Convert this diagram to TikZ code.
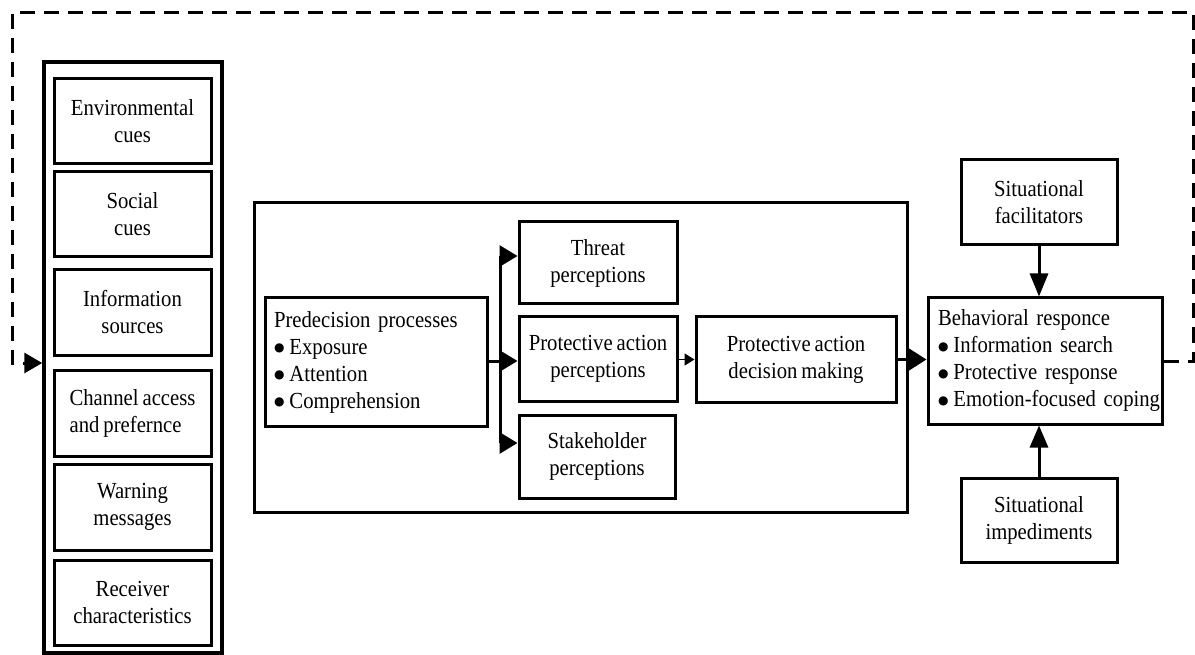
\documentclass[tikz,border=0pt]{standalone}
\usepackage{fontspec}
\setmainfont{Liberation Serif}[FakeStretch=0.9]
\newfontfamily\symfont{DejaVu Sans}
\usetikzlibrary{arrows.meta}
\newcommand\boxfont{\fontsize{23}{27}\selectfont\spaceskip=4pt plus 1pt minus 1pt\relax}
\newcommand\blt{\raisebox{2.5pt}{\symfont\fontsize{12}{12}\selectfont ●}\hspace{5pt}}
\begin{document}
\begin{tikzpicture}[x=1pt,y=-1pt,
  box/.style={draw, line width=3pt, inner sep=0pt, align=center, font=\boxfont},
  listbox/.style={box, align=left, inner xsep=9pt},
  link/.style={line width=3pt},
  bigtip/.style={link, -{Triangle[length=18pt,width=21pt]}},
  smalltip/.style={line width=1.5pt, -{Triangle[length=10pt,width=12pt]}},
  feedback/.style={line width=3pt, dash pattern=on 15pt off 9pt,
                   -{Triangle[length=18pt,width=20pt]}}]
\useasboundingbox (0,0) rectangle (1195,655);

% cue column
\node[draw, line width=3.5pt, minimum width=178pt, minimum height=591pt] (cuecol) at (133,357.5) {};
\node[box, minimum width=157pt, minimum height=85pt] (env)  at (132.5,121.5) {Environmental\\cues};
\node[box, minimum width=157pt, minimum height=85pt] (soc)  at (132.5,214.5) {Social\\cues};
\node[box, minimum width=157pt, minimum height=85pt] (info) at (132.5,312.5) {Information\\sources};
\node[box, align=left, minimum width=157pt, minimum height=86pt] (chan) at (132.5,413) {Channel access\\and prefernce};
\node[box, minimum width=157pt, minimum height=86pt] (warn) at (132.5,507) {Warning\\messages};
\node[box, minimum width=157pt, minimum height=85pt] (recv) at (132.5,602.5) {Receiver\\characteristics};

% decision process frame
\node[draw, line width=3pt, minimum width=653pt, minimum height=309pt] (frame) at (580.5,357.5) {};
\node[listbox, text width=204pt, minimum height=128pt] (pred) at (376,362)
  {\mbox{Predecision processes}\\\mbox{\blt Exposure}\\\mbox{\blt Attention}\\\mbox{\blt Comprehension}};
\node[box, minimum width=158pt, minimum height=82pt] (threat) at (598,263) {Threat\\perceptions};
\node[box, minimum width=158pt, minimum height=84pt] (pap)    at (598,359) {Protective action\\perceptions};
\node[box, minimum width=156pt, minimum height=83pt] (stake)  at (597,456.5) {Stakeholder\\perceptions};
\node[box, minimum width=200pt, minimum height=85pt] (dec)    at (796,359.5) {Protective action\\decision making};

% behavioural response and situational factors
\node[listbox, inner xsep=10pt, text width=214pt, minimum height=126pt] (beh) at (1045,361)
  {\mbox{Behavioral responce}\\\mbox{\blt Information search}\\\mbox{\blt Protective response}\\\mbox{\blt Emotion-focused coping}};
\node[box, minimum width=156pt, minimum height=85pt] (fac) at (1039,202.5) {Situational\\facilitators};
\node[box, minimum width=156pt, minimum height=84pt] (imp) at (1039,520) {Situational\\impediments};

% branching from predecision processes
\coordinate (bt) at (500,256);
\coordinate (bm) at (500,361);
\coordinate (bb) at (500,443);
\draw[link] (pred.east |- bm) -- (bm);
\draw[link] (bt) -- (bb);
\draw[bigtip] (bt) -- (bt -| threat.west);
\draw[bigtip] (bm) -- (bm -| pap.west);
\draw[bigtip] (bb) -- (bb -| stake.west);

\draw[smalltip] (pap.east |- dec.west) -- (dec.west);
\draw[link, -{Triangle[length=18pt,width=22pt]}] (dec.east) -- (dec.east -| beh.west);
\draw[link, -{Triangle[length=23pt,width=18pt]}] (fac.south) -- (beh.north -| fac.south);
\draw[link, -{Triangle[length=22pt,width=18pt]}] (imp.north) -- (beh.south -| imp.north);

% feedback loop
\coordinate (rt) at (1193,13);
\coordinate (lt) at (12,13);
\coordinate (lb) at (12,363);
\draw[feedback] (beh.east) -- (beh.east -| rt) -- (rt) -- (lt) -- (lb) -- (lb -| cuecol.west);
\end{tikzpicture}
\end{document}
